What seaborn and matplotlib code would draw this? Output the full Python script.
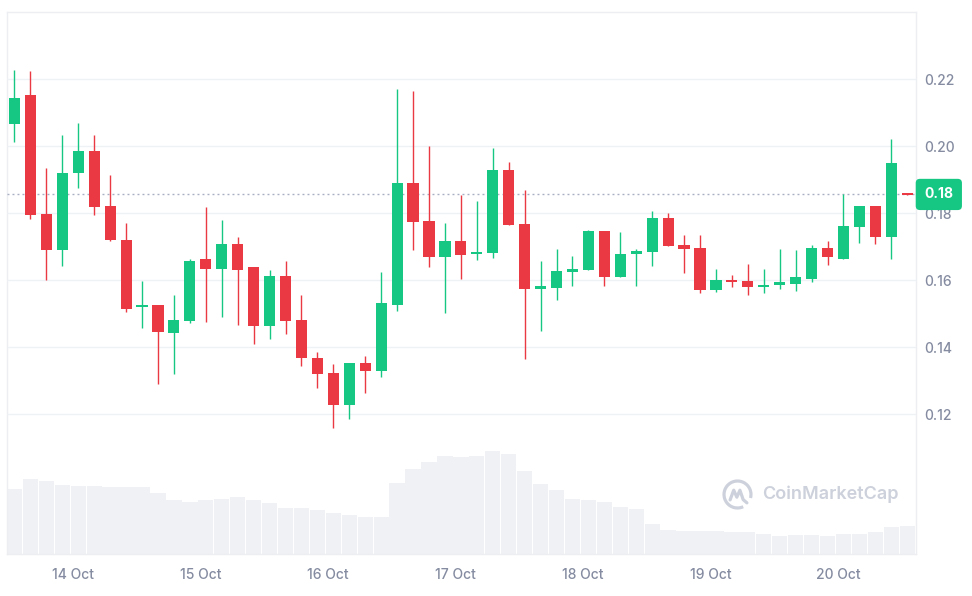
import matplotlib
matplotlib.use("Agg")
import matplotlib.pyplot as plt
import matplotlib.dates as mdates
from matplotlib.patches import Arc
from matplotlib.ticker import FormatStrFormatter
from matplotlib.transforms import blended_transform_factory
import numpy as np
import pandas as pd
import seaborn as sns

# 3-hour candles (13 Oct 13:00 -> 20 Oct 13:00)
start_time = "2024-10-13 13:00"
opens = [0.2065, 0.2153, 0.1798, 0.1691, 0.1919, 0.1986, 0.1822, 0.1720, 0.1520, 0.1526,
         0.1441, 0.1478, 0.1664, 0.1634, 0.1709, 0.1638, 0.1463, 0.1611, 0.1481, 0.1368,
         0.1324, 0.1228, 0.1353, 0.1328, 0.1527, 0.1891, 0.1776, 0.1668, 0.1716, 0.1677,
         0.1680, 0.1929, 0.1769, 0.1575, 0.1578, 0.1623, 0.1631, 0.1746, 0.1608, 0.1677,
         0.1683, 0.1787, 0.1705, 0.1697, 0.1571, 0.1600, 0.1597, 0.1580, 0.1587, 0.1590,
         0.1604, 0.1697, 0.1664, 0.1758, 0.1822, 0.1728, 0.1857]
highs = [0.2228, 0.2225, 0.1934, 0.2034, 0.2069, 0.2034, 0.1914, 0.1770, 0.1597, 0.1526,
         0.1556, 0.1664, 0.1818, 0.1780, 0.1728, 0.1638, 0.1630, 0.1657, 0.1556, 0.1384,
         0.1350, 0.1353, 0.1373, 0.1624, 0.2172, 0.2165, 0.2001, 0.1770, 0.1854, 0.1837,
         0.1994, 0.1952, 0.1869, 0.1656, 0.1694, 0.1671, 0.1750, 0.1746, 0.1743, 0.1693,
         0.1807, 0.1802, 0.1735, 0.1735, 0.1633, 0.1615, 0.1649, 0.1634, 0.1693, 0.1690,
         0.1705, 0.1717, 0.1856, 0.1822, 0.1822, 0.2023, 0.1857]
lows = [0.2012, 0.1784, 0.1600, 0.1641, 0.1874, 0.1795, 0.1717, 0.1504, 0.1456, 0.1290,
        0.1321, 0.1471, 0.1474, 0.1489, 0.1466, 0.1410, 0.1425, 0.1439, 0.1343, 0.1279,
        0.1159, 0.1186, 0.1262, 0.1310, 0.1508, 0.1690, 0.1640, 0.1503, 0.1604, 0.1660,
        0.1667, 0.1766, 0.1365, 0.1448, 0.1542, 0.1582, 0.1631, 0.1582, 0.1608, 0.1582,
        0.1642, 0.1702, 0.1620, 0.1561, 0.1564, 0.1579, 0.1557, 0.1561, 0.1575, 0.1569,
        0.1593, 0.1646, 0.1664, 0.1712, 0.1707, 0.1664, 0.1855]
closes = [0.2145, 0.1795, 0.1691, 0.1921, 0.1986, 0.1819, 0.1720, 0.1515, 0.1524, 0.1444,
          0.1481, 0.1656, 0.1634, 0.1709, 0.1631, 0.1463, 0.1611, 0.1478, 0.1366, 0.1321,
          0.1228, 0.1353, 0.1328, 0.1533, 0.1891, 0.1773, 0.1668, 0.1716, 0.1675, 0.1683,
          0.1929, 0.1766, 0.1575, 0.1582, 0.1626, 0.1634, 0.1746, 0.1608, 0.1679, 0.1686,
          0.1787, 0.1702, 0.1694, 0.1571, 0.1599, 0.1593, 0.1579, 0.1587, 0.1592, 0.1608,
          0.1697, 0.1668, 0.1762, 0.1822, 0.1728, 0.1951, 0.1855]
# volume, relative units (only bar heights are visible)
volume = [6.5, 7.5, 7.3, 6.9, 6.8, 6.8, 6.7, 6.7, 6.7, 6.1,
          5.4, 5.2, 5.4, 5.5, 5.7, 5.4, 5.1, 4.6, 4.6, 4.4,
          4.1, 3.9, 3.7, 3.7, 7.1, 8.5, 9.2, 9.8, 9.7, 9.8,
          10.3, 10.0, 8.3, 7.0, 6.4, 5.5, 5.4, 5.2, 4.7, 4.5,
          3.0, 2.4, 2.3, 2.3, 2.3, 2.2, 2.2, 2.0, 1.8, 1.9,
          1.9, 1.8, 2.0, 2.0, 2.2, 2.7, 2.8]
last_price = 0.1856
last_label = "0.18"
price_ticks = [0.12, 0.14, 0.16, 0.18, 0.20, 0.22]

UP = "#16c784"
DOWN = "#ea3943"
GREY_TXT = "#858ca1"
FRAME = "#eceef2"

df = pd.DataFrame({
    "time": pd.date_range(start_time, periods=len(opens), freq="3h"),
    "open": opens, "high": highs, "low": lows, "close": closes, "volume": volume,
})
df["x"] = mdates.date2num(df["time"])
step = 3 / 24

sns.set_theme(style="white")
plt.rcParams["font.family"] = ["Inter", "DejaVu Sans"]

fig = plt.figure(figsize=(9.72, 5.96), dpi=100)
ax_vol = fig.add_axes([7 / 972, 42 / 596, 909 / 972, 542 / 596])

# volume bars in the background
sns.barplot(data=df, x="x", y="volume", native_scale=True, orient="x", width=0.96,
            color="#eff1f5", saturation=1, errorbar=None, edgecolor="none", ax=ax_vol)
ax_vol.set_ylim(0, 54.2)
ax_vol.set_yticks([])
ax_vol.set_xlabel("")
ax_vol.set_ylabel("")
ax_vol.set_xlim(df["x"].iloc[0] - 0.47 * step, df["x"].iloc[0] + 56.55 * step)
ax_vol.xaxis.set_major_locator(mdates.DayLocator())
ax_vol.xaxis.set_major_formatter(mdates.DateFormatter("%d %b"))
ax_vol.tick_params(axis="x", length=0, pad=10, labelsize=10, labelcolor=GREY_TXT)
for lab in ax_vol.get_xticklabels():
    lab.set_fontweight("medium")
for sp in ax_vol.spines.values():
    sp.set_color(FRAME)
    sp.set_linewidth(1)

# price candles on top
ax = ax_vol.twinx()
ax.patch.set_visible(False)
for sp in ax.spines.values():
    sp.set_visible(False)
ax.set_ylim(0.0782, 0.2401)
ax.set_yticks(price_ticks)
ax.yaxis.set_major_formatter(FormatStrFormatter("%.2f"))
ax.tick_params(axis="y", length=0, pad=6, labelsize=10, labelcolor=GREY_TXT)
for lab in ax.get_yticklabels():
    lab.set_fontweight("medium")
ax.grid(axis="y", color="#eff2f5", lw=1)
ax.set_axisbelow(True)

up = df["close"] >= df["open"]
colors = np.where(up, UP, DOWN)
ax.vlines(df["x"], df["low"], df["high"], colors=colors, lw=1.0, zorder=2)
body_low = np.minimum(df["open"], df["close"])
body_h = np.maximum((df["close"] - df["open"]).abs(), 0.0006)
ax.bar(df["x"], body_h, bottom=body_low, width=0.7 * step, color=colors, linewidth=0, zorder=3)

# current price line + tag
ax.axhline(last_price, color="#a9afc2", lw=1, ls=(0, (1.4, 2.2)), zorder=1)
ax.annotate(last_label, xy=(1, last_price),
            xycoords=blended_transform_factory(ax.transAxes, ax.transData),
            xytext=(6, 0), textcoords="offset points", ha="left", va="center",
            color="white", fontsize=10, fontweight="bold", zorder=10, annotation_clip=False,
            bbox=dict(boxstyle="round,pad=0.62,rounding_size=0.3", fc=UP, ec="none"))

# watermark
fig.text(762 / 972, 1 - 494 / 596, "CoinMarketCap", ha="left", va="center",
         fontsize=13, color="#cdd1db", fontweight="semibold")
logo = fig.add_axes([722 / 972, 1 - 510 / 596, 31 / 972, 31 / 596])
logo.set_xlim(-1.15, 1.15)
logo.set_ylim(-1.15, 1.15)
logo.axis("off")
logo.add_patch(Arc((0, 0), 2, 2, theta1=-15, theta2=295, color="#cdd1db", lw=2.3))
logo.plot([-0.55, -0.28, -0.05, 0.18, 0.42, 0.7], [-0.4, 0.32, -0.2, 0.32, -0.38, -0.62],
          color="#cdd1db", lw=2.3, solid_capstyle="round", solid_joinstyle="round")

fig.savefig("out.png", dpi=100)
